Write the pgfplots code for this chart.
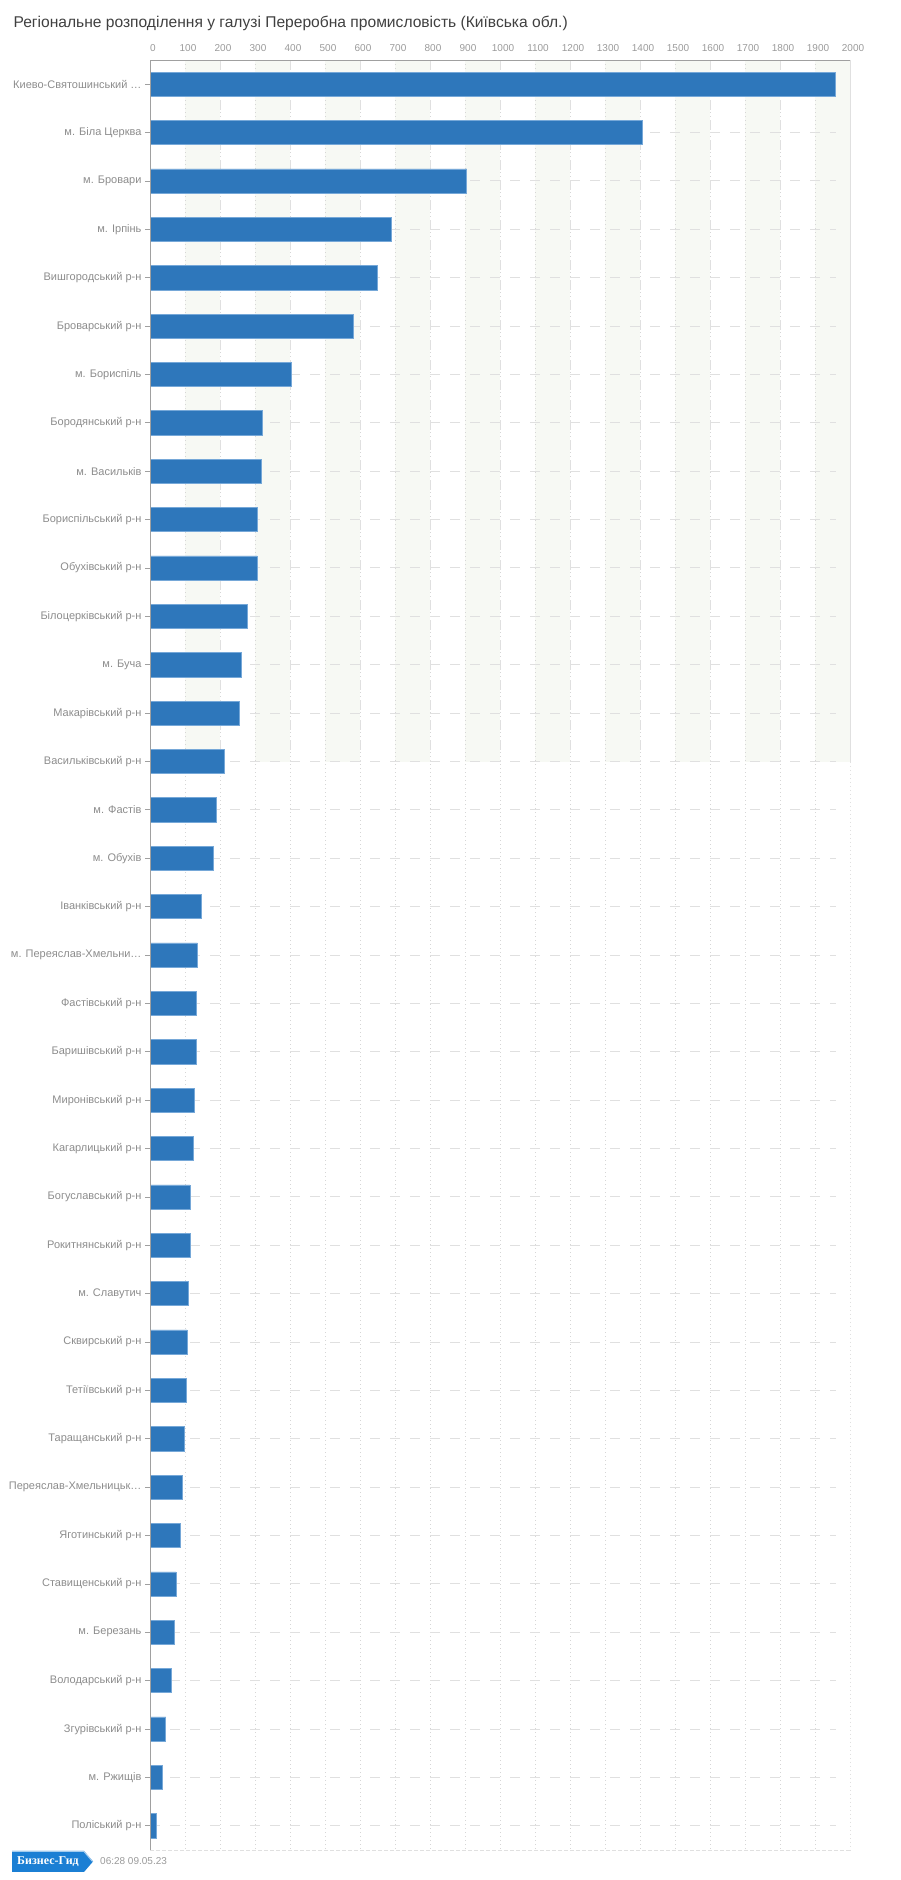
\documentclass[border=0pt]{standalone}
\usepackage{fontspec}
\setmainfont{Liberation Sans}
\newfontfamily\logofont{Liberation Serif}
\usepackage{pgfplots}
\pgfplotsset{compat=1.18}

\definecolor{barblue}{HTML}{2E77BB}
\definecolor{baredge}{HTML}{76A8D8}
\definecolor{labelgray}{HTML}{8C8C8C}
\definecolor{tickgray}{HTML}{9A9A9A}
\definecolor{titlegray}{HTML}{404040}
\definecolor{axisgray}{HTML}{A0A0A0}
\definecolor{gridgray}{HTML}{E0E0E0}
\definecolor{bandfill}{HTML}{F7F9F4}
\definecolor{logoblue}{HTML}{1B7FD4}

\begin{document}
\begin{tikzpicture}[x=1pt,y=1pt]
\useasboundingbox (0,0) rectangle (900,1880);

\node[anchor=base west,text=titlegray,font=\fontsize{15.6}{19}\selectfont]
  at (10,1852) {Регіональне розподілення у галузі Переробна промисловість (Київська обл.)};

\begin{axis}[
  at={(150pt,30pt)},anchor=south west,
  width=700pt,height=1790pt,scale only axis,
  xmin=0,xmax=2000,ymin=-0.5,ymax=36.5,
  y dir=reverse,
  axis line style={draw=none},
  clip=false,
  xtick={0,100,...,2000},
  xticklabel pos=top,
  xtick style={draw=none},
  ytick={0,...,36},
  ytick pos=left,
  ytick style={draw=axisgray,line width=0.8pt},
  tick align=outside,
  major tick length=5pt,
  yticklabels={
    {Киево-Святошинський …},{м. Біла Церква},{м. Бровари},{м. Ірпінь},
    {Вишгородський р-н},{Броварський р-н},{м. Бориспіль},{Бородянський р-н},
    {м. Васильків},{Бориспільський р-н},{Обухівський р-н},{Білоцерківський р-н},
    {м. Буча},{Макарівський р-н},{Васильківський р-н},{м. Фастів},
    {м. Обухів},{Іванківський р-н},{м. Переяслав-Хмельни…},{Фастівський р-н},
    {Баришівський р-н},{Миронівський р-н},{Кагарлицький р-н},{Богуславський р-н},
    {Рокитнянський р-н},{м. Славутич},{Сквирський р-н},{Тетіївський р-н},
    {Таращанський р-н},{Переяслав-Хмельницьк…},{Яготинський р-н},{Ставищенський р-н},
    {м. Березань},{Володарський р-н},{Згурівський р-н},{м. Ржищів},
    {Поліський р-н}},
  yticklabel style={text=labelgray,font=\fontsize{11}{13}\selectfont},
  xticklabel style={text=tickgray,font=\fontsize{10}{12}\selectfont,xshift=3pt},
  /pgf/number format/assume math mode=true,
  /pgf/number format/1000 sep={},
]

% light bands in the upper part
\pgfplotsinvokeforeach{100,300,...,1900}{
  \fill[bandfill] (axis cs:#1,-0.5) rectangle ([xshift=35pt]axis cs:#1,14);
}
% vertical grid
\pgfplotsinvokeforeach{100,200,...,1900}{
  \draw[gridgray!90!gray,line width=0.8pt,dash pattern=on 1pt off 3pt]
    (axis cs:#1,-0.5) -- (axis cs:#1,36.5);
}
\pgfplotsinvokeforeach{200,400,...,1800}{
  \draw[gridgray,line width=1pt,dash pattern=on 10pt off 10pt]
    (axis cs:#1,-0.5) -- (axis cs:#1,14);
}
% horizontal grid
\pgfplotsinvokeforeach{0,...,36}{
  \draw[gridgray,line width=1pt,dash pattern=on 10pt off 10pt]
    (axis cs:0,#1) -- (axis cs:1960,#1);
}

\addplot[xbar,bar width=0.5,fill=barblue,draw=baredge,line width=0.6pt]
coordinates {
  (1959,0) (1406,1) (905,2) (690,3) (649,4) (582,5) (405,6) (321,7)
  (317,8) (307,9) (306,10) (277,11) (261,12) (255,13) (211,14) (189,15)
  (181,16) (146,17) (135,18) (133,19) (133,20) (127,21) (123,22) (114,23)
  (114,24) (108,25) (106,26) (104,27) (97,28) (91,29) (87,30) (74,31)
  (69,32) (60,33) (45,34) (34,35) (17,36)
};

% axis frame
\draw[gridgray,line width=1pt] (axis cs:2000,-0.5) -- (axis cs:2000,14);
\draw[gridgray,line width=0.8pt,dash pattern=on 1pt off 3pt]
  (axis cs:2000,14) -- (axis cs:2000,36.5);
\draw[gridgray,line width=1pt,dash pattern=on 4pt off 2pt]
  (axis cs:0,36.5) -- (axis cs:2000,36.5);
\draw[axisgray,line width=1pt] (axis cs:0,-0.5) -- (axis cs:2000,-0.5);
\draw[axisgray,line width=1pt] (axis cs:0,-0.5) -- (axis cs:0,36.5);
\end{axis}

% footer
\fill[logoblue] (12,29) -- (84,29) -- (93,18.5) -- (84,8) -- (12,8) -- cycle;
\draw[logoblue!40!white,line width=1pt] (12,28.5) -- (84,28.5) -- (92.5,18.5);
\node[text=white,font=\logofont\bfseries\fontsize{12}{14}\selectfont]
  at (48,18.5) {Бизнес-Гид};
\node[anchor=west,inner sep=0pt,text=tickgray,font=\fontsize{10}{12}\selectfont]
  at (100,19) {06:28 09.05.23};
\end{tikzpicture}
\end{document}
